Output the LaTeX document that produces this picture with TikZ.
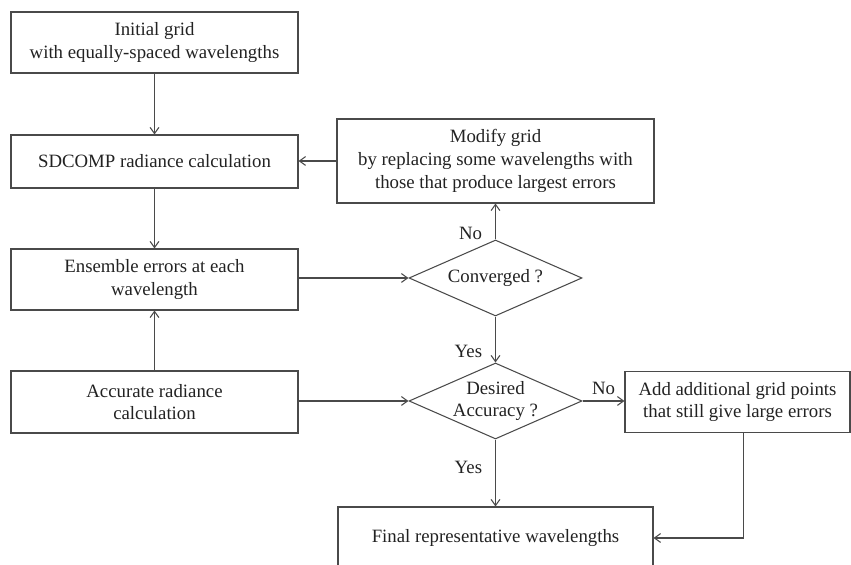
\documentclass[tikz,border=0pt]{standalone}
\usepackage{fontspec}
\setmainfont{Liberation Serif}
\usetikzlibrary{shapes.geometric,arrows.meta,positioning}
\definecolor{linegray}{HTML}{4A4A4A}
\definecolor{textgray}{HTML}{222222}

\begin{document}
\begin{tikzpicture}[
    font=\fontsize{10.7}{12.9}\selectfont,
    >={Straight Barb[length=3.5pt,width=5pt]},
    block/.style={draw=linegray, line width=0.6pt, rectangle, align=center, text=textgray, minimum width=5.74cm, minimum height=1.22cm, inner sep=0pt},
    decision/.style={draw=linegray, line width=0.6pt, diamond, aspect=2.28, align=center, text=textgray, minimum width=3.46cm, minimum height=1.52cm, inner sep=-3pt},
    flow/.style={draw=linegray, line width=0.6pt, ->},
    lbl/.style={text=textgray}
]

\useasboundingbox (0,0) rectangle (17.02,11.3);

% Left column
\node[block] (init) at (3.09,10.45) {Initial grid\\with equally-spaced wavelengths};
\node[block, minimum height=1.06cm] (sdcomp) at (3.09,8.07) {SDCOMP radiance calculation};
\node[block] (ens) at (3.09,5.71) {Ensemble errors at each\\wavelength};
\node[block, minimum height=1.24cm] (acc) at (3.09,3.26) {Accurate radiance\\calculation};

% Middle column
\node[block, minimum width=6.34cm, minimum height=1.68cm] (mod) at (9.91,8.08) {Modify grid\\by replacing some wavelengths with\\those that produce largest errors};
\node[decision] (conv) at (9.91,5.74) {Converged ?};
\node[decision] (des) at (9.91,3.28) {Desired\\Accuracy ?};
\node[block, minimum width=6.3cm, minimum height=1.24cm] (final) at (9.91,0.54) {Final representative wavelengths};

% Right column
\node[block, minimum width=4.5cm] (add) at (14.75,3.26) {Add additional grid points\\that still give large errors};

% Connectors
\draw[flow] (init) -- (sdcomp);
\draw[flow] (sdcomp) -- (ens);
\draw[flow] (acc) -- (ens);
\draw[flow] (ens.east |- conv.west) -- (conv.west);
\draw[flow] (acc.east |- des.west) -- (des.west);
\draw[flow] (mod.west) -- (sdcomp.east |- mod.west);
\draw[flow] (conv.north) -- node[lbl, pos=0.18, left=4pt] {No} (mod.south);
\draw[flow] (conv.south) -- node[lbl, pos=0.75, left=4pt] {Yes} (des.north);
\draw[flow] (des.south) -- node[lbl, pos=0.41, left=4pt] {Yes} (final.north);
\draw[flow] (des.east) -- node[lbl, above] {No} (add.west |- des.east);
\draw[flow] ([xshift=0.12cm]add.south) |- (final.east);

\end{tikzpicture}
\end{document}
